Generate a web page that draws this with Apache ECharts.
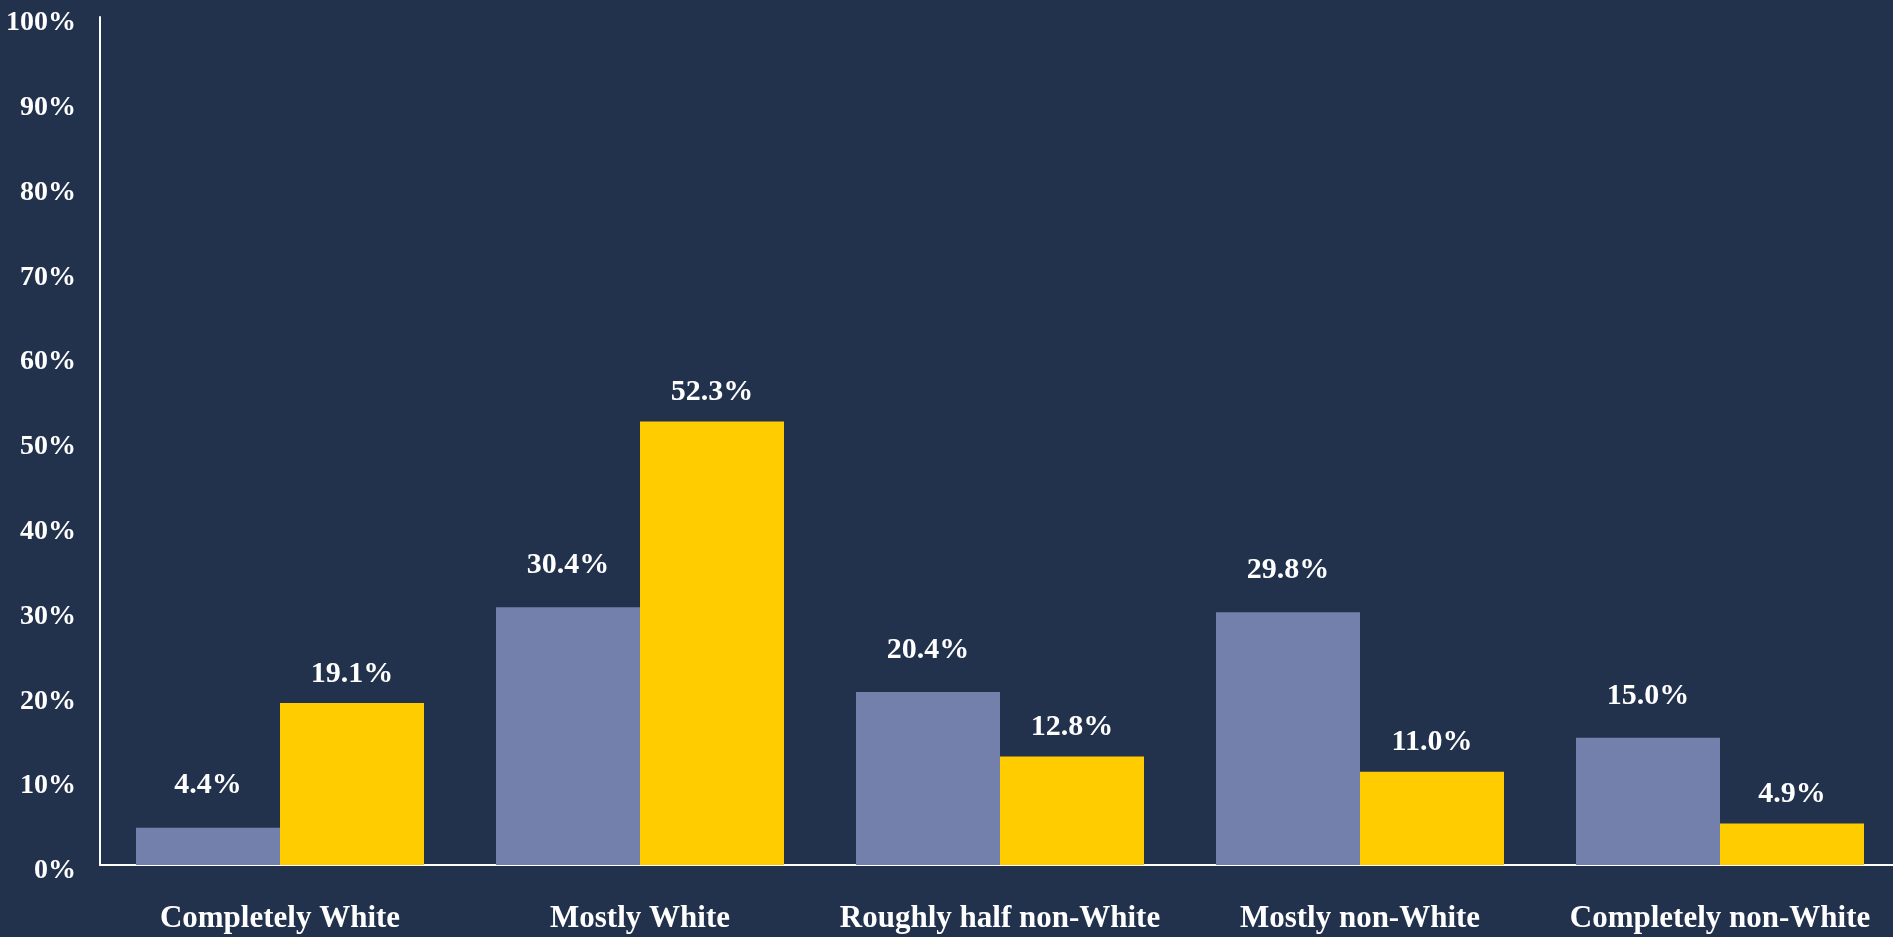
<!DOCTYPE html>
<html>
<head>
<meta charset="utf-8">
<script src="https://cdn.jsdelivr.net/npm/echarts@6/dist/echarts.min.js"></script>
<style>
html,body{margin:0;padding:0;background:#22324d;}
#c{width:1893px;height:937px;}
</style>
</head>
<body>
<div id="c"></div>
<script>
const categories = ["Completely White", "Mostly White", "Roughly half non-White", "Mostly non-White", "Completely non-White"];
const seriesA = [4.4, 30.4, 20.4, 29.8, 15.0];
const seriesB = [19.1, 52.3, 12.8, 11.0, 4.9];
const yTicks = [0, 10, 20, 30, 40, 50, 60, 70, 80, 90, 100];

const font = "'Liberation Serif', 'DejaVu Serif', serif";
const chart = echarts.init(document.getElementById('c'), null, {renderer: 'canvas'});
chart.setOption({
  backgroundColor: '#22324d',
  animation: false,
  grid: {left: 100, width: 1800, top: 17, bottom: 72, containLabel: false, outerBoundsMode: 'none'},
  xAxis: {
    type: 'category',
    data: categories,
    axisLine: {show: true, lineStyle: {color: '#ffffff', width: 2}},
    axisTick: {show: false},
    axisLabel: {color: '#ffffff', fontFamily: font, fontWeight: 'bold', fontSize: 31, margin: 38, interval: 0}
  },
  yAxis: {
    type: 'value',
    min: yTicks[0],
    max: yTicks[yTicks.length - 1],
    interval: 10,
    splitLine: {show: false},
    axisLine: {show: true, lineStyle: {color: '#ffffff', width: 2}},
    axisTick: {show: false},
    axisLabel: {
      margin: 24,
      formatter: v => '{t|' + v + '%}',
      rich: {t: {color: '#ffffff', fontFamily: font, fontWeight: 'bold', fontSize: 28, padding: [12, 0, 0, 0]}}
    }
  },
  series: [
    {
      type: 'bar',
      data: seriesA,
      barWidth: '40%',
      barGap: '0%',
      itemStyle: {color: '#7480ac'},
      label: {show: true, position: 'top', distance: 27, color: '#ffffff', fontFamily: font, fontWeight: 'bold', fontSize: 30, formatter: p => p.value.toFixed(1) + '%'}
    },
    {
      type: 'bar',
      data: seriesB,
      barWidth: '40%',
      barGap: '0%',
      itemStyle: {color: '#ffcc00'},
      label: {show: true, position: 'top', distance: 14, color: '#ffffff', fontFamily: font, fontWeight: 'bold', fontSize: 30, formatter: p => p.value.toFixed(1) + '%'}
    }
  ]
});
</script>
</body>
</html>
